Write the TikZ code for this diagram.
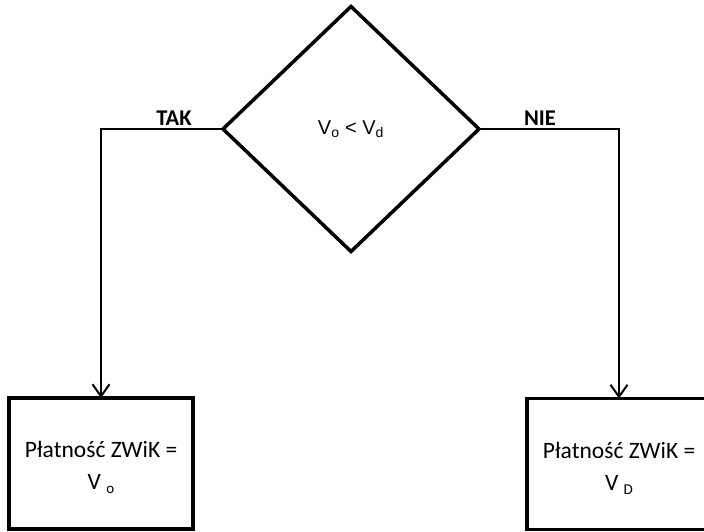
\documentclass[tikz,border=0pt]{standalone}
\usepackage{fontspec}
\setmainfont{Carlito}
\newfontfamily\arialf{Liberation Sans}
\usetikzlibrary{shapes.geometric,arrows.meta}
\tikzset{
  decision/.style={diamond,draw,line width=3.5pt,minimum width=256pt,minimum height=245pt,inner sep=0pt,outer sep=0pt,font=\arialf\fontsize{20}{24}\selectfont},
  outbox/.style={rectangle,draw,line width=3.5pt,minimum width=184pt,minimum height=131pt,inner sep=0pt,outer sep=0pt},
  boxtext/.style={align=center,inner sep=0pt,font=\fontsize{23.5}{32}\selectfont},
  conn/.style={line width=2pt,-{Straight Barb[length=12pt,width=17pt,line width=2pt]}},
  lbl/.style={anchor=base,font=\bfseries\fontsize{22.5}{24}\selectfont,inner sep=0pt}
}
\begin{document}
\begin{tikzpicture}[x=1pt,y=-1pt]
\useasboundingbox (0,0) rectangle (704,532);
\clip (0,0) rectangle (704,532);
\node[decision] (d) at (351,129) {V\textsubscript{o} < V\textsubscript{d}};
\node[outbox] (l) at (101,463.5) {};
\node[outbox] (r) at (619,464) {};
\node[boxtext] (lt) at ([yshift=-4pt]l.center) {Płatność ZWiK =\\V\ \raisebox{-4pt}{\fontsize{15}{15}\selectfont o}};
\node[boxtext] (rt) at ([yshift=-4pt]r.center) {Płatność ZWiK =\\V\ \raisebox{-4pt}{\fontsize{15}{15}\selectfont D}};
\draw[conn] (d.west) -| (l.north);
\draw[conn] (d.east) -| (r.north);
\node[lbl] (tak) at (174,126) {TAK};
\node[lbl] (nie) at (540,126) {NIE};
\end{tikzpicture}
\end{document}
